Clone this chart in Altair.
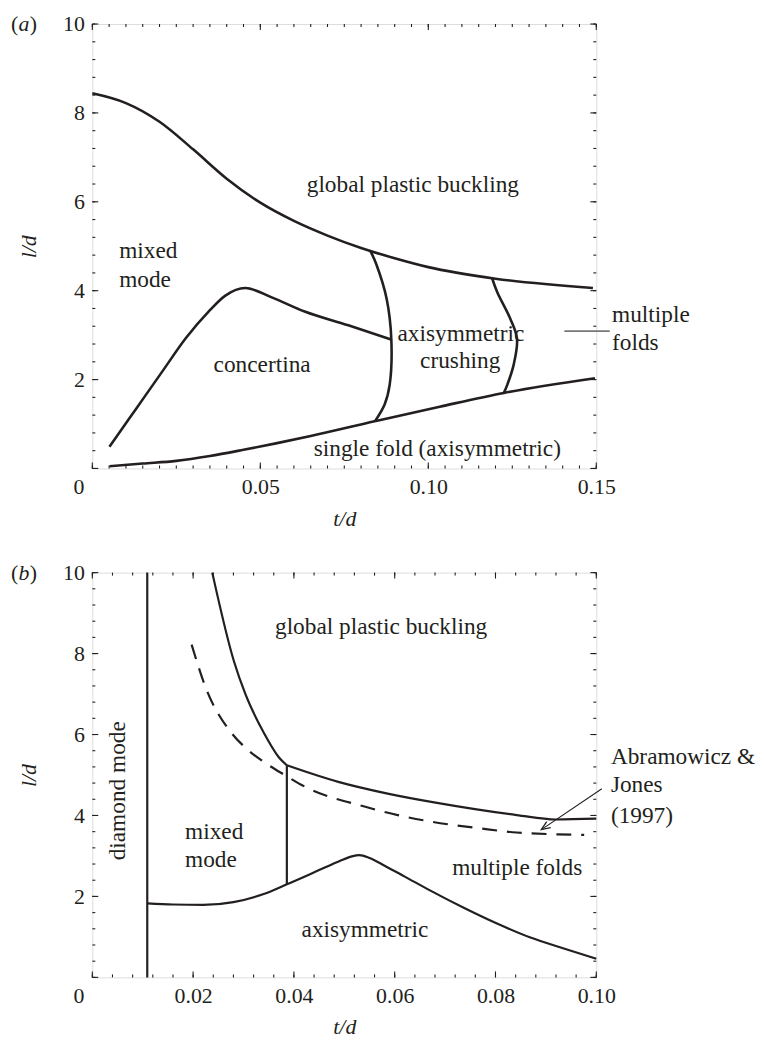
import altair as alt
import numpy as np
import pandas as pd

SERIF = "Liberation Serif"
INK = "#231f20"

# ---------------- panel (a) data ----------------
a_global_x = [0.0, 0.01, 0.02, 0.03, 0.04, 0.05, 0.06, 0.07, 0.08, 0.09, 0.10, 0.12, 0.149]
a_global_y = [8.44, 8.22, 7.80, 7.18, 6.52, 5.98, 5.57, 5.24, 4.96, 4.73, 4.53, 4.27, 4.06]
a_conc_x = [0.0051, 0.013, 0.0209, 0.0278, 0.0346, 0.0396, 0.0455, 0.0534, 0.0632, 0.0762, 0.089]
a_conc_y = [0.49, 1.34, 2.19, 2.93, 3.53, 3.89, 4.06, 3.85, 3.53, 3.22, 2.90]
a_fold_x = [0.0051, 0.015, 0.025, 0.035, 0.045, 0.055, 0.065, 0.084, 0.1034, 0.1225, 0.1496]
a_fold_y = [0.05, 0.11, 0.17, 0.28, 0.42, 0.57, 0.73, 1.06, 1.39, 1.70, 2.03]
a_larc_x = [0.0828, 0.0845, 0.0876, 0.0890, 0.0885, 0.0870, 0.0841]
a_larc_y = [4.89, 4.60, 3.82, 2.90, 1.88, 1.44, 1.06]
a_rarc_x = [0.1190, 0.1205, 0.1244, 0.1264, 0.1254, 0.1235, 0.1225]
a_rarc_y = [4.28, 3.97, 3.37, 2.92, 2.33, 1.88, 1.70]

a_x_ticks = [0.05, 0.10, 0.15]
a_y_ticks = [2, 4, 6, 8, 10]

a_center_labels = [
    {"text": "global plastic buckling", "x": 0.0954, "y": 6.21},
    {"text": "axisymmetric", "x": 0.1097, "y": 2.86},
    {"text": "crushing", "x": 0.1095, "y": 2.25},
    {"text": "single fold (axisymmetric)", "x": 0.1027, "y": 0.27},
]
a_left_labels = [
    {"text": "mixed", "x": 0.008, "y": 4.73},
    {"text": "mode", "x": 0.008, "y": 4.08},
    {"text": "concertina", "x": 0.0361, "y": 2.18},
    {"text": "multiple", "x": 0.1547, "y": 3.30},
    {"text": "folds", "x": 0.1547, "y": 2.66},
]
a_pointer = [{"x": 0.1405, "x2": 0.1540, "y": 3.09}]

# ---------------- panel (b) data ----------------
b_diamond_x = [0.0109, 0.0109]
b_diamond_y = [0.0, 10.0]
b_steep_x = [0.0238, 0.0281, 0.0304, 0.0340, 0.0370, 0.0386]
b_steep_y = [10.0, 7.81, 6.99, 6.05, 5.44, 5.24]
b_upper_x = [0.0386, 0.0488, 0.0586, 0.0684, 0.0842, 0.092, 0.100]
b_upper_y = [5.24, 4.83, 4.54, 4.31, 4.01, 3.90, 3.92]
b_vert_x = [0.0386, 0.0386]
b_vert_y = [5.24, 2.30]
b_lower_x = [0.0109, 0.016, 0.022, 0.028, 0.034, 0.0386, 0.045, 0.049, 0.0515, 0.053,
             0.055, 0.058, 0.062, 0.067, 0.0737, 0.0803, 0.0868, 0.0934, 0.100]
b_lower_y = [1.83, 1.80, 1.79, 1.86, 2.06, 2.30, 2.65, 2.87, 2.99, 3.02,
             2.95, 2.76, 2.49, 2.15, 1.72, 1.33, 0.99, 0.72, 0.46]
b_aj_x = [0.0197, 0.0225, 0.0278, 0.0307, 0.0343, 0.0383, 0.0422, 0.054, 0.0606, 0.0671, 0.077, 0.0842, 0.0976]
b_aj_y = [8.22, 7.16, 6.01, 5.64, 5.30, 4.99, 4.71, 4.22, 4.01, 3.85, 3.68, 3.58, 3.52]

b_x_ticks = [0.02, 0.04, 0.06, 0.08, 0.10]
b_y_ticks = [2, 4, 6, 8, 10]

b_center_labels = [
    {"text": "global plastic buckling", "x": 0.0573, "y": 8.48},
    {"text": "multiple folds", "x": 0.0843, "y": 2.54},
    {"text": "axisymmetric", "x": 0.0541, "y": 0.99},
]
b_left_labels = [
    {"text": "mixed", "x": 0.0184, "y": 3.41},
    {"text": "mode", "x": 0.0184, "y": 2.72},
    {"text": "Abramowicz &", "x": 0.1029, "y": 5.28},
    {"text": "Jones", "x": 0.1029, "y": 4.58},
    {"text": "(1997)", "x": 0.1029, "y": 3.81},
]
b_rot_labels = [{"text": "diamond mode", "x": 0.0051, "y": 4.61}]
b_arrow = [{"x": 0.1011, "y": 4.66, "x2": 0.0891, "y2": 3.65}]

LABEL_FS = 22
ANNOT_FS = 23.5


def curve_frame(segments):
    rows = []
    for name, xs, ys in segments:
        for i, (x, y) in enumerate(zip(xs, ys)):
            rows.append({"curve": name, "i": i, "x": x, "y": y})
    return pd.DataFrame(rows)


def make_panel(W, H, xdom, ydom, x_ticks, y_ticks, x_major, x_minor_step, y_major, y_minor_step,
               smooth, arcs, dashed, center_labels, left_labels, tag, stroke_w):
    xs = alt.Scale(domain=xdom, nice=False, zero=False)
    ys = alt.Scale(domain=ydom, nice=False, zero=False)
    xax = alt.Axis(values=x_ticks, format=".2f", domain=False, ticks=False, tickSize=0, grid=False,
                   labelFont=SERIF, labelFontSize=LABEL_FS, labelColor=INK, labelPadding=8,
                   labelFlush=False, labelOverlap=False,
                   title="t/d", titleFont=SERIF, titleFontStyle="italic", titleFontWeight="normal",
                   titleFontSize=LABEL_FS, titleColor=INK, titlePadding=11)
    yax = alt.Axis(values=y_ticks, format="d", domain=False, ticks=False, tickSize=0, grid=False,
                   labelFont=SERIF, labelFontSize=LABEL_FS, labelColor=INK, labelPadding=8,
                   labelFlush=False, labelOverlap=False,
                   title="l/d", titleFont=SERIF, titleFontStyle="italic", titleFontWeight="normal",
                   titleFontSize=LABEL_FS, titleColor=INK, titlePadding=22)
    X = lambda f: alt.X(f, type="quantitative", scale=xs, axis=xax)
    Y = lambda f: alt.Y(f, type="quantitative", scale=ys, axis=yax)

    layers = []
    # curves (x-monotone ones, then arcs / straight segments)
    layers.append(alt.Chart(curve_frame(smooth)).mark_line(
        color=INK, strokeWidth=stroke_w, interpolate="monotone").encode(
        x=X("x"), y=Y("y"), detail="curve:N", order="i:Q"))
    layers.append(alt.Chart(curve_frame(arcs)).mark_line(
        color=INK, strokeWidth=stroke_w, interpolate="catmull-rom").encode(
        x=X("x"), y=Y("y"), detail="curve:N", order="i:Q"))
    if dashed:
        layers.append(alt.Chart(curve_frame(dashed)).mark_line(
            color=INK, strokeWidth=stroke_w, strokeDash=[15, 10], interpolate="monotone").encode(
            x=X("x"), y=Y("y"), detail="curve:N", order="i:Q"))

    # inward frame ticks
    x_minor = np.round(np.arange(xdom[0], xdom[1] + 1e-9, x_minor_step), 5)
    y_minor = np.round(np.arange(ydom[0], ydom[1] + 1e-9, y_minor_step), 5)
    for vals, L in ((x_major, 6), (x_minor, 3)):
        base = alt.Chart(pd.DataFrame({"v": vals})).mark_rule(color=INK, strokeWidth=1.1)
        layers.append(base.encode(x=X("v"), y=alt.value(H), y2=alt.value(H - L)))
        layers.append(base.encode(x=X("v"), y=alt.value(0), y2=alt.value(L)))
    for vals, L in ((y_major, 6), (y_minor, 3)):
        base = alt.Chart(pd.DataFrame({"v": vals})).mark_rule(color=INK, strokeWidth=1.1)
        layers.append(base.encode(y=Y("v"), x=alt.value(0), x2=alt.value(L)))
        layers.append(base.encode(y=Y("v"), x=alt.value(W), x2=alt.value(W - L)))

    # origin "0"
    layers.append(alt.Chart(pd.DataFrame({"x": [xdom[0]], "y": [ydom[0]], "t": ["0"]})).mark_text(
        font=SERIF, fontSize=LABEL_FS, color=INK, align="right", baseline="middle", dx=-8, dy=19).encode(
        x=X("x"), y=Y("y"), text="t:N"))

    # annotations
    layers.append(alt.Chart(pd.DataFrame(center_labels)).mark_text(
        font=SERIF, fontSize=ANNOT_FS, color=INK, align="center", baseline="alphabetic").encode(
        x=X("x"), y=Y("y"), text="text:N"))
    layers.append(alt.Chart(pd.DataFrame(left_labels)).mark_text(
        font=SERIF, fontSize=ANNOT_FS, color=INK, align="left", baseline="alphabetic").encode(
        x=X("x"), y=Y("y"), text="text:N"))

    # panel tag "(a)" / "(b)"
    layers.append(alt.Chart(pd.DataFrame({"t": ["("]})).mark_text(
        font=SERIF, fontSize=LABEL_FS, color=INK, align="left", baseline="alphabetic").encode(
        x=alt.value(-82), y=alt.value(7), text="t:N"))
    layers.append(alt.Chart(pd.DataFrame({"t": [tag]})).mark_text(
        font=SERIF, fontSize=LABEL_FS, fontStyle="italic", color=INK, align="left",
        baseline="alphabetic").encode(x=alt.value(-74.5), y=alt.value(7), text="t:N"))
    layers.append(alt.Chart(pd.DataFrame({"t": [")"]})).mark_text(
        font=SERIF, fontSize=LABEL_FS, color=INK, align="left", baseline="alphabetic").encode(
        x=alt.value(-63), y=alt.value(7), text="t:N"))
    return layers, X, Y


# ---- panel (a)
Wa, Ha = 508, 448
a_layers, Xa, Ya = make_panel(
    Wa, Ha, [0, 0.15], [0, 10], a_x_ticks, a_y_ticks,
    [0, 0.05, 0.10, 0.15], 0.005, [0, 2, 4, 6, 8, 10], 0.4,
    [("global", a_global_x, a_global_y), ("conc", a_conc_x, a_conc_y), ("fold", a_fold_x, a_fold_y)],
    [("larc", a_larc_x, a_larc_y), ("rarc", a_rarc_x, a_rarc_y)],
    None, a_center_labels, a_left_labels, "a", 2.6)
a_layers.append(alt.Chart(pd.DataFrame(a_pointer)).mark_rule(color="#777777", strokeWidth=1.6).encode(
    x=Xa("x"), x2="x2:Q", y=Ya("y")))
panel_a = alt.layer(*a_layers).properties(width=Wa, height=Ha)

# ---- panel (b)
Wb, Hb = 508, 408
b_layers, Xb, Yb = make_panel(
    Wb, Hb, [0, 0.10], [0, 10], b_x_ticks, b_y_ticks,
    [0, 0.02, 0.04, 0.06, 0.08, 0.10], 0.004, [0, 2, 4, 6, 8, 10], 0.4,
    [("steep", b_steep_x, b_steep_y), ("upper", b_upper_x, b_upper_y), ("lower", b_lower_x, b_lower_y)],
    [("diamond", b_diamond_x, b_diamond_y), ("vert", b_vert_x, b_vert_y)],
    [("aj", b_aj_x, b_aj_y)], b_center_labels, b_left_labels, "b", 2.2)
b_layers.append(alt.Chart(pd.DataFrame(b_rot_labels)).mark_text(
    font=SERIF, fontSize=ANNOT_FS, color=INK, align="center", baseline="middle", angle=270).encode(
    x=Xb("x"), y=Yb("y"), text="text:N"))
b_layers.append(alt.Chart(pd.DataFrame(b_arrow)).mark_rule(color=INK, strokeWidth=1.1).encode(
    x=Xb("x"), y=Yb("y"), x2="x2:Q", y2="y2:Q"))
b_layers.append(alt.Chart(pd.DataFrame(b_arrow)).mark_point(
    shape="M-0.4,1L0,0L0.4,1", filled=False, color=INK, strokeWidth=1.3, size=324, angle=235.7,
    opacity=1).encode(x=Xb("x2"), y=Yb("y2")))
panel_b = alt.layer(*b_layers).properties(width=Wb, height=Hb)

chart = alt.vconcat(panel_a, panel_b, spacing=31).properties(
    padding={"left": 2, "top": 0, "right": 0, "bottom": 0}
).configure_view(stroke=INK, strokeWidth=1.5).configure(background="white")

chart.save("out.html", embed_options={"renderer": "svg", "actions": False})
